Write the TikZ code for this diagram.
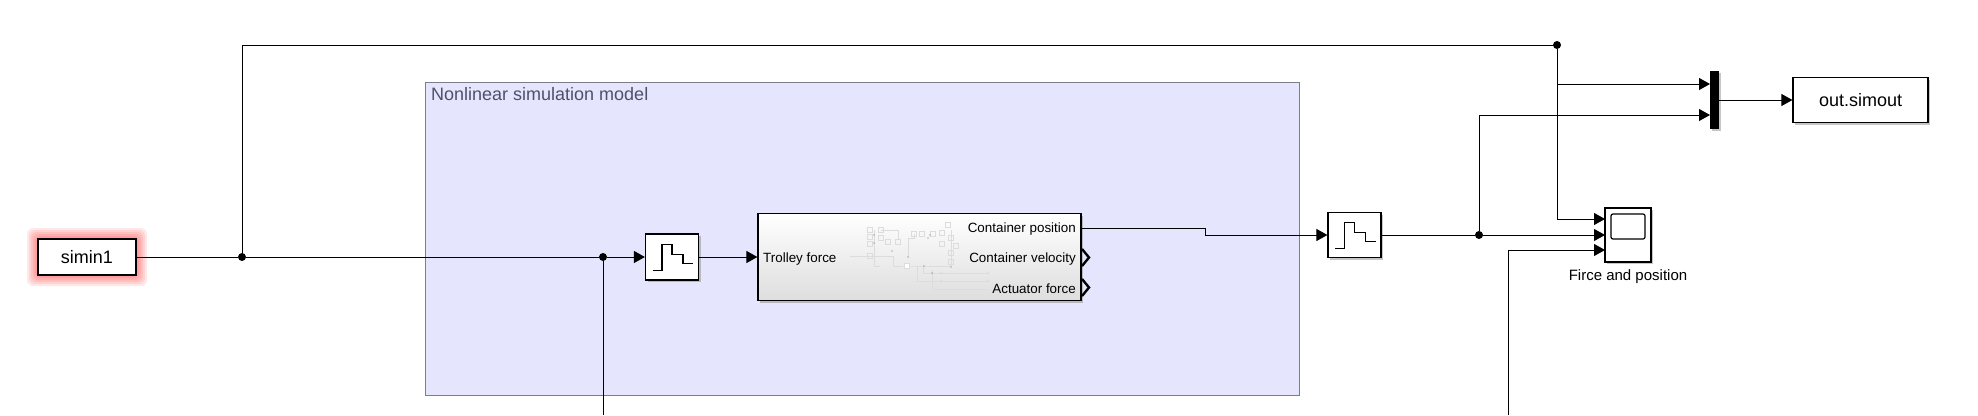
\documentclass[tikz,border=0pt]{standalone}
\usepackage{fontspec}
\setmainfont{Liberation Sans}
\usetikzlibrary{arrows.meta,shadows}

\definecolor{panelfill}{HTML}{E5E5FD}
\definecolor{panelline}{HTML}{7C7C8C}
\definecolor{paneltext}{HTML}{50506A}
\definecolor{minigray}{HTML}{DCDCDC}

\tikzset{
    wire/.style={line width=1pt, -{Triangle[length=11pt,width=12pt]}},
    plainwire/.style={line width=1pt},
    block/.style={draw, line width=1.2pt, fill=white, inner sep=0pt,
        drop shadow={shadow xshift=2pt, shadow yshift=-2pt, opacity=0.45}},
    junction/.style={circle, fill=black, minimum size=8pt, inner sep=0pt},
    porttext/.style={inner sep=0pt, font=\fontsize{13.4}{15}\selectfont},
    minibox/.style={draw=minigray, line width=0.6pt},
    miniline/.style={draw=minigray, line width=0.6pt}
}

\begin{document}
\begin{tikzpicture}[x=1pt,y=-1pt]
    \useasboundingbox (0,0) rectangle (1978,415);

    % Background area
    \node (panel) [draw=panelline, line width=1pt, fill=panelfill, minimum width=874pt, minimum height=313pt, inner sep=0pt] at (862,238.5) {};
    \node (paneltitle) [anchor=west, inner sep=0pt, text=paneltext, font=\fontsize{18}{20}\selectfont] at (431,94.5) {Nonlinear simulation model};

    % Red glow of the input
    \foreach \glow in {11,9,7,5,3,1}
        \fill[red, opacity=0.09, rounded corners=6pt] (38-\glow,239-\glow) rectangle (136+\glow,275+\glow);

    % Blocks
    \node (simin) [draw, line width=1.2pt, fill=white, minimum width=98pt, minimum height=36pt, inner sep=0pt, font=\fontsize{18}{20}\selectfont] at (87,257) {\raisebox{1pt}{simin1}};
    \node (zohin) [block, minimum width=53pt, minimum height=46pt] at (672,257) {};
    \node (plant) [block, top color=white, middle color=white, bottom color=black!13, minimum width=323pt, minimum height=87pt] at (919.5,257) {};
    \node (zohout) [block, minimum width=53pt, minimum height=45pt] at (1354.5,235) {};
    \node (scope) [block, minimum width=46pt, minimum height=54pt] at (1628,235) {};
    \node (mux) [fill=black, minimum width=9pt, minimum height=58pt, inner sep=0pt,
        drop shadow={shadow xshift=2pt, shadow yshift=-2pt, opacity=0.45}] at (1714,100) {};
    \node (outblock) [block, minimum width=135pt, minimum height=45pt, font=\fontsize{18}{20}\selectfont] at (1860.5,100) {\raisebox{1pt}{out.simout}};
    \node (scopelabel) [inner sep=0pt, font=\fontsize{15}{17}\selectfont] at (1628,277) {Firce and position};

    % Icons
    \foreach \zohname in {zohin,zohout}
        \draw[line width=1.1pt] ([shift={(-19.5,13.5)}]\zohname.center) -- ++(9.5,0) -- ++(0,-26) -- ++(10,0) -- ++(0,10) -- ++(11,0) -- ++(0,9) -- ++(10,0);
    \draw[line width=1.2pt, rounded corners=2pt] (1611,214) rectangle (1645,239);

    % Miniature model inside the subsystem
    \draw[miniline] (850,256) -- (893,256) -- (893,266) -- (907,266) -- (951,266);
    \draw[miniline] (881,230) -- (898,230) -- (898,240);
    \draw[miniline] (874,230) -- (874,266) -- (880,266);
    \draw[miniline] (908,257) -- (908,238) -- (914,238) -- (914,234);
    \draw[miniline] (917,266) -- (917,281) -- (988,281);
    \draw[miniline] (923,266) -- (923,273) -- (988,273);
    \draw[miniline] (932,270) -- (932,289) -- (990,289);
    \draw[miniline] (951,230) -- (951,266);
    \foreach \mx/\my in {870/230,881/230,870/237,881/238,888/242,898/242,870/244,870/256}
        \draw[minibox] (\mx-2.5,\my-2.5) rectangle (\mx+2.5,\my+2.5);
    \foreach \mx/\my in {914/234,922/234,933/234,942/233,948/225,951/238,956/246,942/244,951/253,951/262}
        \draw[minibox] (\mx-2.5,\my-2.5) rectangle (\mx+2.5,\my+2.5);
    \draw[minibox, fill=white] (904,263) rectangle (909,268);
    \foreach \mx/\my in {941/273,941/281,988/273,988/281}
        \draw[minibox] (\mx,\my) circle (1.2);
    \foreach \mx/\my in {874/235,874/243,908/257,892/251,924/266,932/273,951/267,928/238,930/235}
        \fill[black!60] (\mx,\my) circle (0.6);

    % Subsystem ports
    \node (porttrolley) [porttext, anchor=west] at (763,259) {Trolley force};
    \node (portpos) [porttext, anchor=east] at (1076,229) {Container position};
    \node (portvel) [porttext, anchor=east] at (1076,259) {Container velocity};
    \node (portact) [porttext, anchor=east] at (1076,289) {Actuator force};
    \draw[line width=2.4pt] (1082,249) -- (1089,257.5) -- (1082,266);
    \draw[line width=2.4pt] (1082,279) -- (1089,287.5) -- (1082,296);

    % Junctions
    \node (jsimin) [junction] at (242,257) {};
    \node (jzoh) [junction] at (603,257) {};
    \node (jtop) [junction] at (1557,45) {};
    \node (jout) [junction] at (1479,235) {};

    % Free ends
    \coordinate (zohdown) at (603,415);
    \coordinate (thirddown) at (1508,415);
    \coordinate (scopea) at (1605,219);
    \coordinate (scopeb) at (1605,235);
    \coordinate (scopec) at (1605,250);
    \coordinate (muxa) at (1710,84);
    \coordinate (muxb) at (1710,115);
    \coordinate (posout) at (1081,228);
    \coordinate (jogbend) at (1205,228);

    % Connectors
    \draw[plainwire] (simin.east) -- (jsimin);
    \draw[plainwire] (jsimin) -- (jzoh);
    \draw[wire] (jzoh) -- (zohin.west);
    \draw[plainwire] (jzoh) -- (zohdown);
    \draw[wire] (zohin.east) -- (plant.west);
    \draw[plainwire] (jsimin) |- (jtop);
    \draw[wire] (posout) -- (jogbend) |- (zohout.west);
    \draw[plainwire] (zohout.east) -- (jout);
    \draw[wire] (jout) -- (scopeb);
    \draw[wire] (jout) |- (muxb);
    \draw[wire] (jtop) |- (muxa);
    \draw[wire] (jtop) |- (scopea);
    \draw[wire] (thirddown) |- (scopec);
    \draw[wire] (mux.east) -- (outblock.west);
\end{tikzpicture}
\end{document}
